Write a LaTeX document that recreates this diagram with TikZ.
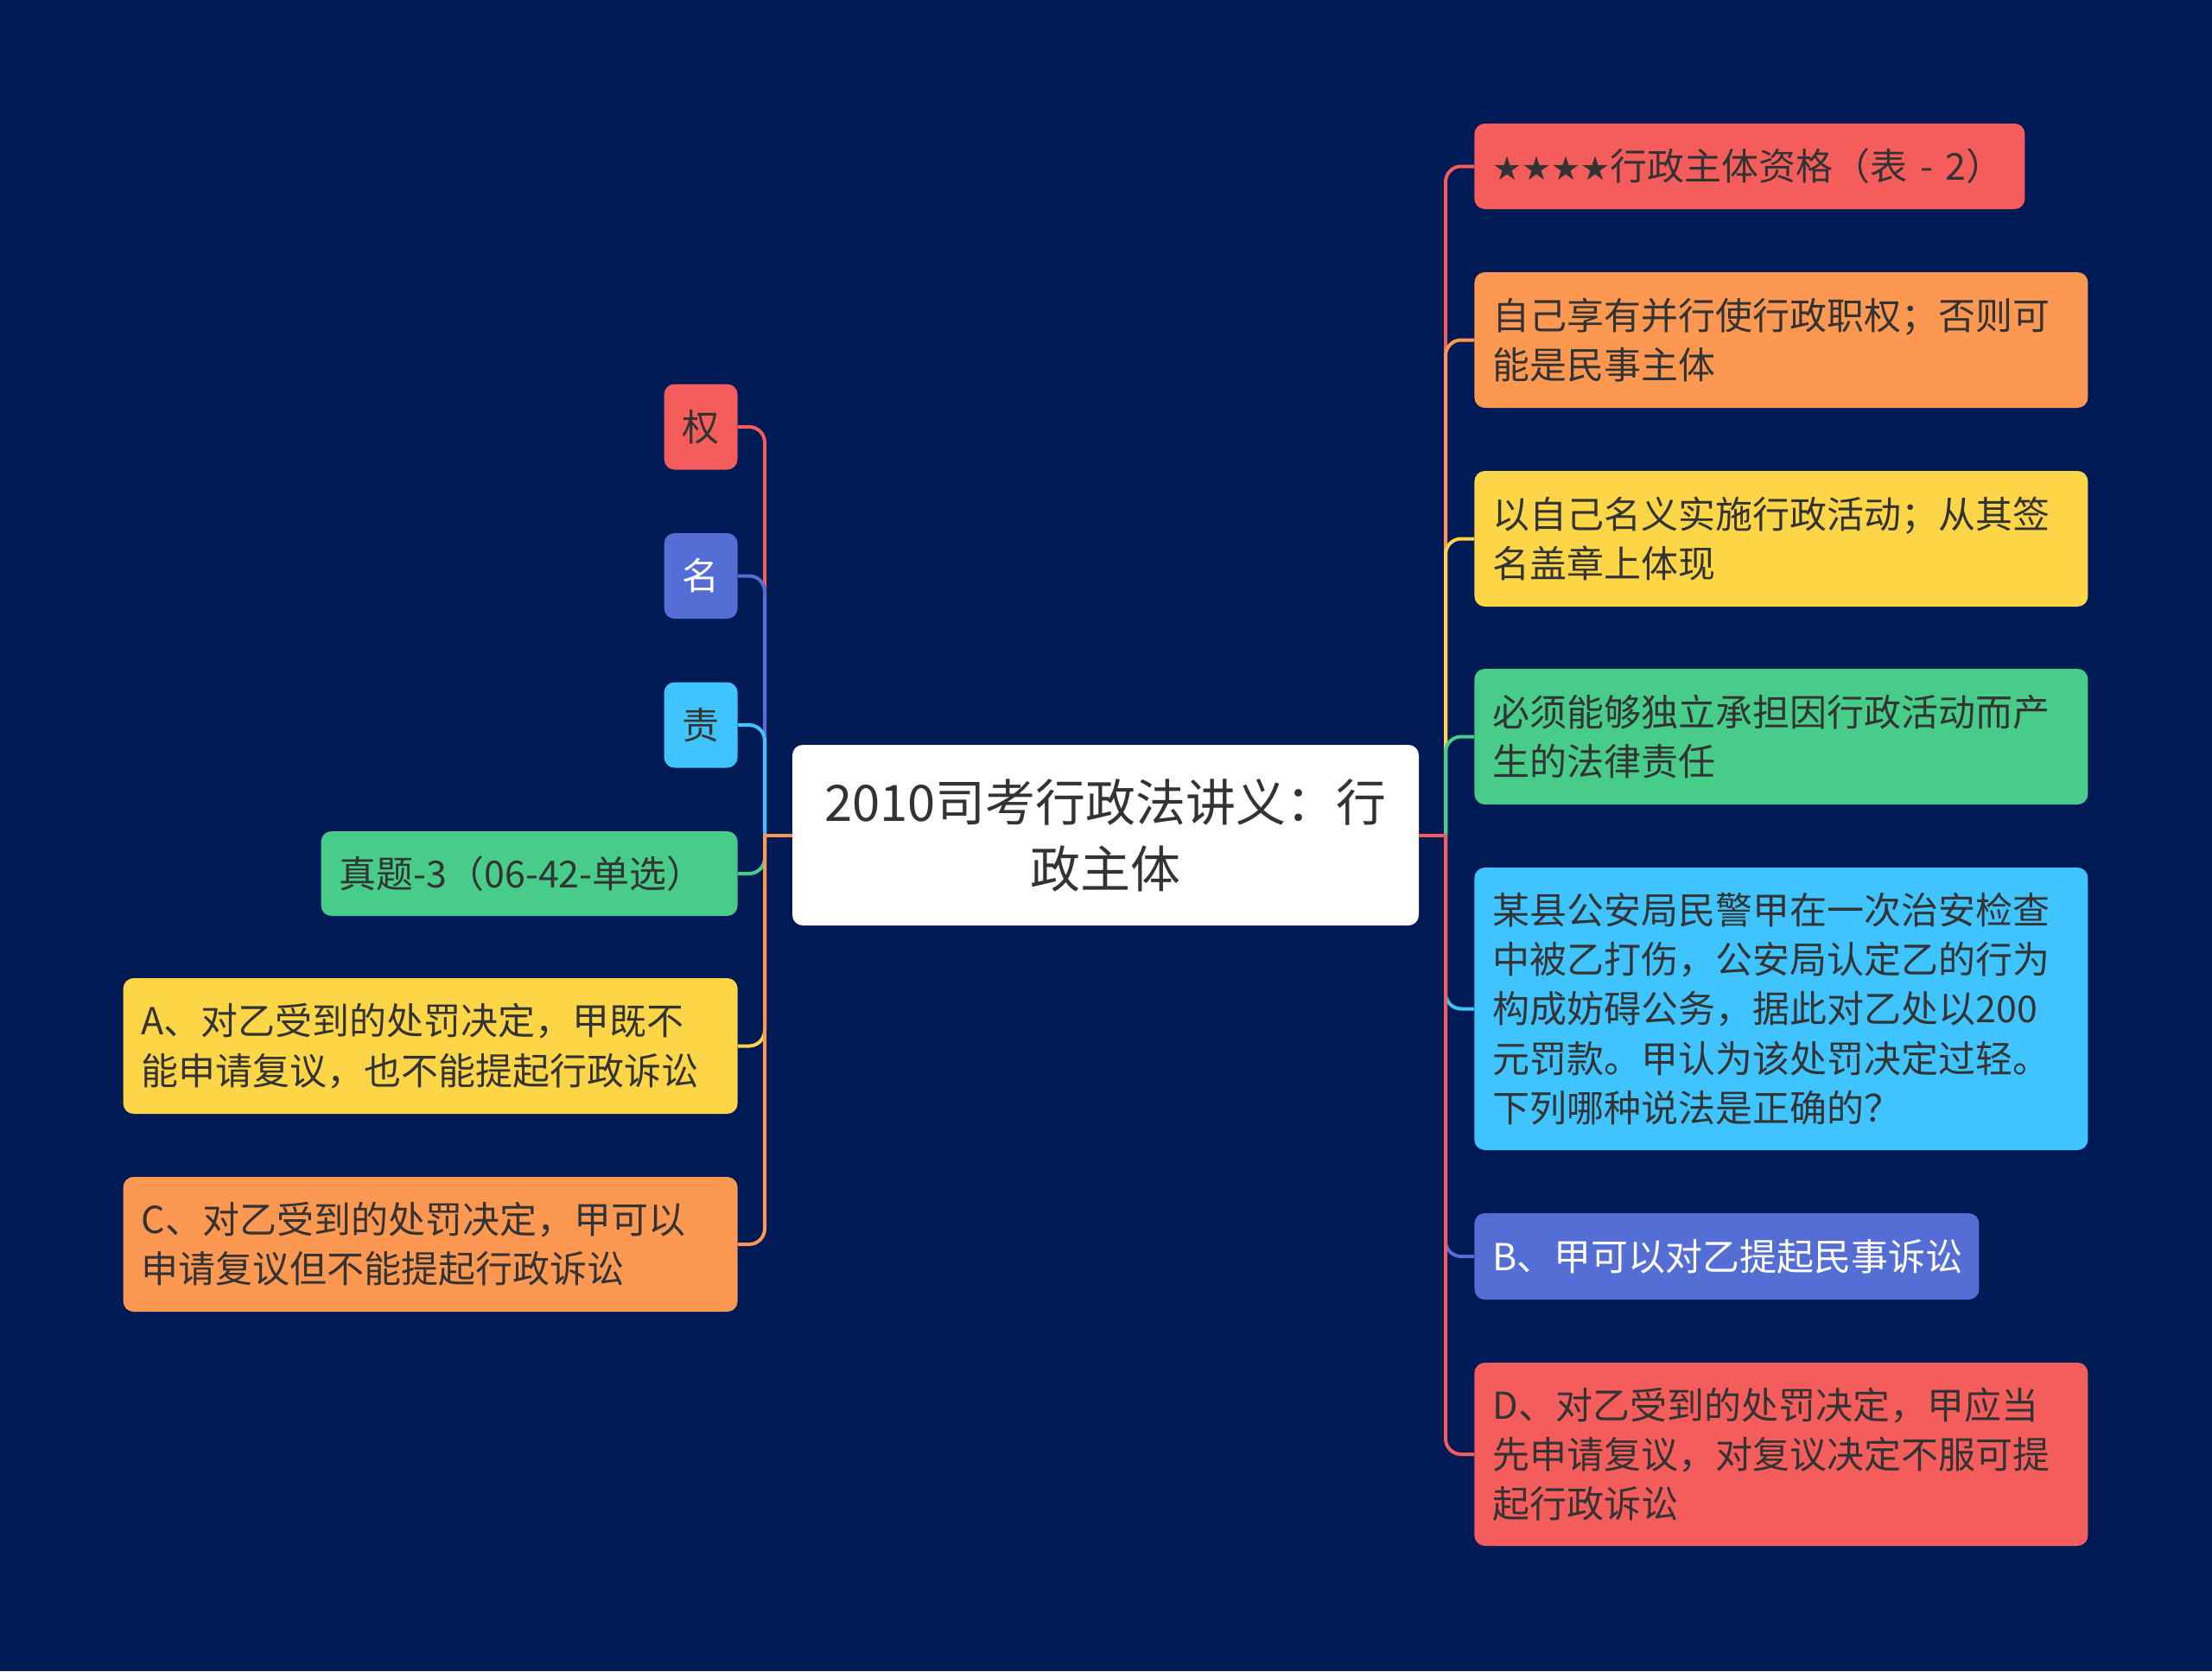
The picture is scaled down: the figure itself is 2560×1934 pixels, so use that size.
\documentclass[tikz,border=0pt]{standalone}
\usepackage{fontspec}
\setmainfont{Noto Sans CJK SC}
\newfontfamily\symfont{DejaVu Sans}
\definecolor{bg}{RGB}{0,26,86}
\definecolor{cred}{RGB}{245,93,92}
\definecolor{corange}{RGB}{253,152,82}
\definecolor{cyellow}{RGB}{253,214,72}
\definecolor{cgreen}{RGB}{72,204,137}
\definecolor{csky}{RGB}{64,196,255}
\definecolor{cindigo}{RGB}{84,110,214}
\definecolor{txt}{RGB}{51,51,51}
\begin{document}
\begin{tikzpicture}[x=0.5pt,y=-0.5pt,
  box/.style={rounded corners=6pt, inner xsep=10.5pt, inner ysep=0pt,
    font=\fontsize{21.5}{28.6}\selectfont, text=txt, align=left},
  rbox/.style={box, anchor=west},
  lbox/.style={box, anchor=east},
  charbox/.style={box, anchor=east, align=center, minimum width=42.5pt, minimum height=49.5pt},
  conn/.style={line width=2pt, rounded corners=9pt}]
\fill[bg] (0,0) rectangle (2560,1934);
\useasboundingbox (0,0) rectangle (2560,1934);

% central node
\node[fill=white, rounded corners=6pt, minimum width=362.5pt, minimum height=104.5pt,
  inner sep=0pt, align=center, text=txt, font=\fontsize{29}{38.5}\selectfont]
  (c) at (1279.5,966.5) {2010司考行政法讲义：行\\政主体};

\coordinate (lt) at (885,966.5);
\coordinate (rt) at (1673,966.5);

% right nodes
\node[rbox, fill=cred, text width=297.5pt, minimum height=49.5pt] (r1) at (1706,192.5)
  {\mbox{{\symfont\fontsize{19}{24}\selectfont ★★★★}行政主体资格（表 - 2）}};
\node[rbox, fill=corange, text width=334pt, minimum height=78.5pt] (r2) at (1706,393.5)
  {自己享有并行使行政职权；否则可\\能是民事主体};
\node[rbox, fill=cyellow, text width=334pt, minimum height=78.5pt] (r3) at (1706,623.5)
  {以自己名义实施行政活动；从其签\\名盖章上体现};
\node[rbox, fill=cgreen, text width=334pt, minimum height=78.5pt] (r4) at (1706,852.5)
  {必须能够独立承担因行政活动而产\\生的法律责任};
\node[rbox, fill=csky, text width=334pt, minimum height=163.5pt] (r5) at (1706,1167.5)
  {某县公安局民警甲在一次治安检查\\中被乙打伤，公安局认定乙的行为\\构成妨碍公务，据此对乙处以200\\元罚款。甲认为该处罚决定过轻。\\下列哪种说法是正确的？};
\node[rbox, fill=cindigo, text=white, text width=271pt, minimum height=50pt] (r6) at (1706,1454)
  {B、甲可以对乙提起民事诉讼};
\node[rbox, fill=cred, text width=334pt, minimum height=106pt] (r7) at (1706,1683)
  {D、对乙受到的处罚决定，甲应当\\先申请复议，对复议决定不服可提\\起行政诉讼};

% left nodes
\node[charbox, fill=cred] (l1) at (854,494) {权};
\node[charbox, fill=cindigo, text=white] (l2) at (854,666.5) {名};
\node[charbox, fill=csky] (l3) at (854,839) {责};
\node[lbox, fill=cgreen, text width=220pt, minimum height=49pt] (l4) at (854,1011)
  {真题-3（06-42-单选）};
\node[lbox, fill=cyellow, text width=334.5pt, minimum height=78.5pt] (l5) at (854,1210.5)
  {A、对乙受到的处罚决定，甲既不\\能申请复议，也不能提起行政诉讼};
\node[lbox, fill=corange, text width=334.5pt, minimum height=78pt] (l6) at (854,1440)
  {C、对乙受到的处罚决定，甲可以\\申请复议但不能提起行政诉讼};

% connectors left
\foreach \n/\col in {l1/cred, l2/cindigo, l3/csky, l4/cgreen, l5/cyellow, l6/corange}{
  \draw[line width=2pt, \col] (c.west) -- (lt);
  \draw[conn, \col] (lt) |- (\n.east);
}
% connectors right
\foreach \n/\col in {r1/cred, r2/corange, r3/cyellow, r4/cgreen, r5/csky, r6/cindigo, r7/cred}{
  \draw[line width=2pt, \col] (c.east) -- (rt);
  \draw[conn, \col] (rt) |- (\n.west);
}
\end{tikzpicture}
\end{document}
